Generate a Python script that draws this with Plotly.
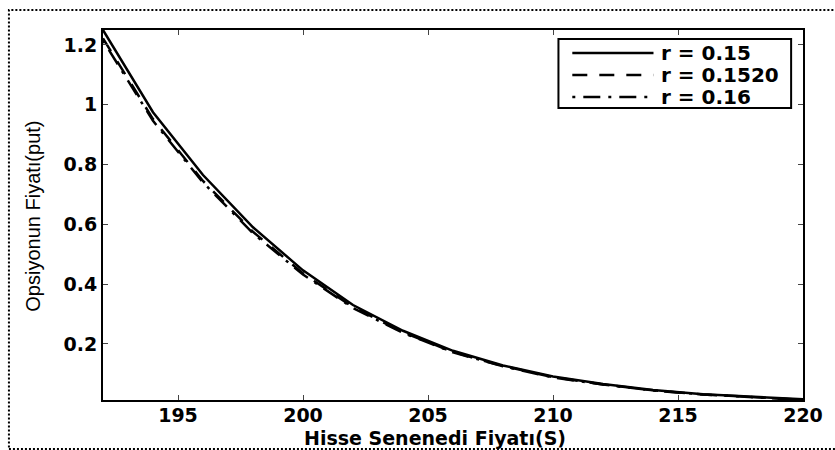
import plotly.graph_objects as go

# Stock price grid (S) and put prices for three interest rates
S = [192, 194, 196, 198, 200, 202, 204, 206, 208, 210, 212, 214, 216, 218, 220]
put_r015 = [1.250, 0.975, 0.765, 0.590, 0.446, 0.330, 0.244, 0.177, 0.128,
            0.091, 0.066, 0.046, 0.032, 0.022, 0.0145]
put_r0152 = [1.222, 0.952, 0.745, 0.575, 0.436, 0.323, 0.239, 0.173, 0.126,
             0.089, 0.064, 0.045, 0.031, 0.021, 0.0130]
put_r016 = [1.215, 0.946, 0.740, 0.570, 0.432, 0.320, 0.237, 0.172, 0.125,
            0.088, 0.064, 0.044, 0.031, 0.021, 0.0124]

series_names = ["r = 0.15", "r = 0.1520", "r = 0.16"]
x_ticks = [195, 200, 205, 210, 215, 220]
x_ticktext = ["195", "200", "205", "210", "215", "220"]
y_ticks = [0.2, 0.4, 0.6, 0.8, 1.0, 1.2]
y_ticktext = ["0.2", "0.4", "0.6", "0.8", "1", "1.2"]

W, H = 835, 450
L, R, T, B = 103, 25, 30, 50
pw, ph = W - L - R, H - T - B


def px_to_paper_x(px):
    return (px - L) / pw


def px_to_paper_y(py):
    return (H - B - py) / ph


BOLD = "DejaVu Sans"
dashes = ["solid", "15px,12px", "3px,8px,17px,8px"]

fig = go.Figure()
for name, ys, dash in zip(series_names, [put_r015, put_r0152, put_r016], dashes):
    fig.add_trace(go.Scatter(x=S, y=ys, mode="lines", name=name,
                             line=dict(color="black", width=2.5, dash=dash)))

all_vals = put_r015 + put_r0152 + put_r016
axis_common = dict(
    showline=True, linecolor="black", linewidth=2, mirror="ticks",
    ticks="inside", ticklen=5, tickwidth=1, tickcolor="#444",
    showgrid=False, zeroline=False,
    tickfont=dict(family=BOLD, size=19, color="black", weight="bold"),
)
fig.update_xaxes(range=[min(S), max(S)], tickvals=x_ticks, ticktext=x_ticktext,
                 ticklabelstandoff=-3, **axis_common)
fig.update_yaxes(range=[min(all_vals), max(all_vals)], tickvals=y_ticks,
                 ticktext=y_ticktext, **axis_common)

# Boxed key in the upper-right corner of the axes
key_left, key_top, key_right, key_bottom = 563, 39, 798, 108
row_y = [53, 75, 97]
shapes = [
    dict(type="rect", xref="paper", yref="paper",
         x0=px_to_paper_x(key_left), x1=px_to_paper_x(key_right),
         y0=px_to_paper_y(key_bottom), y1=px_to_paper_y(key_top),
         line=dict(color="black", width=2), fillcolor="white", layer="above"),
]
annotations = []
for name, dash, yy in zip(series_names, dashes, row_y):
    shapes.append(dict(type="line", xref="paper", yref="paper",
                       x0=px_to_paper_x(577), x1=px_to_paper_x(659),
                       y0=px_to_paper_y(yy), y1=px_to_paper_y(yy),
                       line=dict(color="black", width=2.5, dash=dash),
                       layer="above"))
    annotations.append(dict(text=name, xref="paper", yref="paper",
                            x=px_to_paper_x(665), y=px_to_paper_y(yy),
                            xanchor="left", yanchor="middle", showarrow=False,
                            font=dict(family=BOLD, size=20, color="black",
                                      weight="bold")))

# Dotted outer frame around the whole figure
shapes.append(dict(type="rect", xref="paper", yref="paper",
                   x0=px_to_paper_x(8), x1=px_to_paper_x(845),
                   y0=px_to_paper_y(449), y1=px_to_paper_y(10),
                   line=dict(color="black", width=2, dash="2px,2px"),
                   layer="below"))

annotations += [
    dict(text="Hisse Senenedi Fiyatı(S)", xref="paper", yref="paper",
         x=px_to_paper_x(438.5), y=px_to_paper_y(438),
         xanchor="center", yanchor="middle", showarrow=False,
         font=dict(family=BOLD, size=19, color="black", weight="bold")),
    dict(text="Opsiyonun Fiyatı(put)", xref="paper", yref="paper",
         x=px_to_paper_x(32), y=px_to_paper_y(216), textangle=-90,
         xanchor="center", yanchor="middle", showarrow=False,
         font=dict(family="Liberation Sans, Arial", size=20, color="black")),
]

fig.update_layout(
    width=W, height=H,
    margin=dict(l=L, r=R, t=T, b=B),
    paper_bgcolor="white", plot_bgcolor="white",
    showlegend=False,
    annotations=annotations,
    shapes=shapes,
)

fig.write_html("out.html")
